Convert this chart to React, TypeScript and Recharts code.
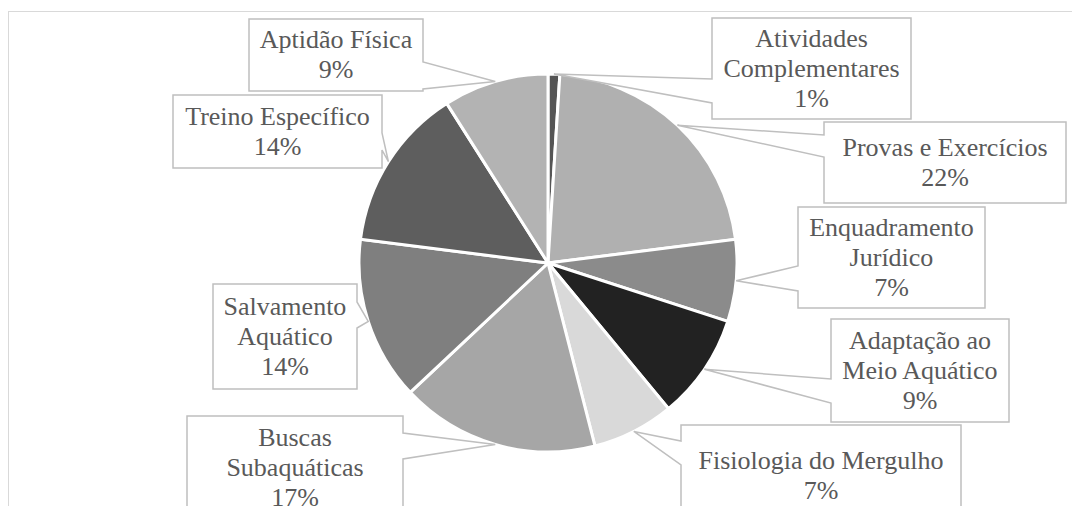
import { Cell, Pie, PieChart } from 'recharts';

// categorias e valores (%)
const categories = [
	'Atividades\nComplementares',
	'Provas e Exercícios',
	'Enquadramento\nJurídico',
	'Adaptação ao\nMeio Aquático',
	'Fisiologia do Mergulho',
	'Buscas\nSubaquáticas',
	'Salvamento\nAquático',
	'Treino Específico',
	'Aptidão Física',
];
const values = [1, 22, 7, 9, 7, 17, 14, 14, 9];
const colors = [
	'#555555',
	'#b0b0b0',
	'#8b8b8b',
	'#222222',
	'#d9d9d9',
	'#a6a6a6',
	'#7f7f7f',
	'#5e5e5e',
	'#b3b3b3',
];

// caixas dos rótulos (layout)
const callouts = [
	{ x: 712, y: 18, w: 199, h: 101, side: 'left', b1: 79, b2: 103 },
	{ x: 824, y: 122, w: 242, h: 81, side: 'left', b1: 135, b2: 157 },
	{ x: 798, y: 207, w: 187, h: 101, side: 'left', b1: 266, b2: 291 },
	{ x: 831, y: 319, w: 178, h: 103, side: 'left', b1: 379, b2: 403 },
	{ x: 681, y: 425, w: 280, h: 101, side: 'left', b1: 441, b2: 465 },
	{ x: 187, y: 416, w: 216, h: 104, side: 'right', b1: 433, b2: 459 },
	{ x: 213, y: 284, w: 144, h: 105, side: 'right', b1: 302, b2: 328 },
	{ x: 173, y: 95, w: 209, h: 73, side: 'right', b1: 133, b2: 150 },
	{ x: 249, y: 19, w: 174, h: 72, side: 'right', b1: 62, b2: 89 },
];

const data = categories.map((name, i) => ({ name, value: values[i] }));

const RAD = Math.PI / 180;
const FONT = '"Times New Roman", "Liberation Serif", Tinos, "DejaVu Serif", serif';

const renderCallout = (props: any) => {
	const { cx, cy, midAngle, outerRadius, percent, index, name } = props;
	const c = callouts[index];
	const tx = cx + outerRadius * Math.cos(-midAngle * RAD);
	const ty = cy + outerRadius * Math.sin(-midAngle * RAD);
	const { x, y, w, h, b1, b2 } = c;
	let d;
	if (c.side === 'left') {
		d = `M${x},${y} H${x + w} V${y + h} H${x} V${b2} L${tx},${ty} L${x},${b1} Z`;
	} else {
		d = `M${x},${y} H${x + w} V${b1} L${tx},${ty} L${x + w},${b2} V${y + h} H${x} Z`;
	}
	const lines = [...String(name).split('\n'), `${Math.round(percent * 100)}%`];
	const lh = 30;
	const first = y + h / 2 + 8 - ((lines.length - 1) * lh) / 2;
	return (
		<g key={`co-${index}`}>
			<path d={d} fill="#ffffff" stroke="#bfbfbf" strokeWidth={1.5} />
			{lines.map((l, i) => (
				<text
					key={i}
					x={x + w / 2}
					y={first + i * lh}
					textAnchor="middle"
					fontFamily={FONT}
					fontSize={26}
					style={{ fontFamily: FONT }}
					fill="#595959"
				>
					{l}
				</text>
			))}
		</g>
	);
};

const App = () => {
	return (
		<div style={{ position: 'relative', width: 1072, height: 498, fontFamily: FONT }}>
			<div
				style={{
					position: 'absolute',
					left: 0,
					top: 3,
					width: 1072,
					height: 495,
					borderTop: '1px solid #d9d9d9',
					borderLeft: '1px solid #d9d9d9',
					boxSizing: 'border-box',
				}}
			/>
			<div style={{ position: 'absolute', left: -8, top: -8 }}>
				<PieChart
					width={1080}
					height={506}
					margin={{ top: 0, right: 0, bottom: 0, left: 0 }}
					style={{ fontFamily: FONT }}
				>
					<Pie
						data={data}
						dataKey="value"
						nameKey="name"
						cx={548}
						cy={263}
						outerRadius={189}
						startAngle={90}
						endAngle={-270}
						stroke="#ffffff"
						strokeWidth={3}
						label={renderCallout}
						labelLine={false}
						isAnimationActive={false}
					>
						{data.map((d, i) => (
							<Cell key={d.name} fill={colors[i]} />
						))}
					</Pie>
				</PieChart>
			</div>
		</div>
	);
};

export default App;
